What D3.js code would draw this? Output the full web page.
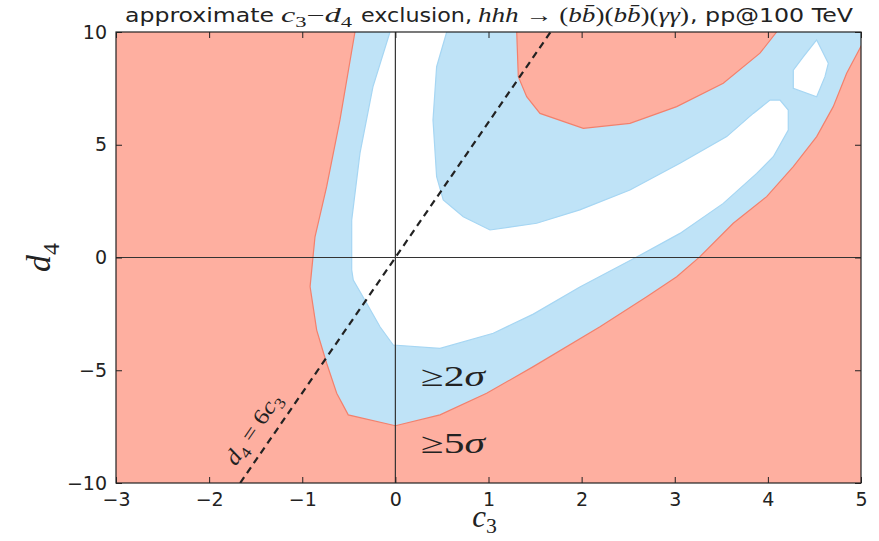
<!DOCTYPE html>
<html>
<head>
<meta charset="utf-8">
<script src="https://cdn.jsdelivr.net/npm/d3@7"></script>
<style>
  html, body { margin: 0; padding: 0; background: #fff; }
  svg { display: block; }
</style>
</head>
<body>
<svg id="chart" width="879" height="541"></svg>
<script>
// ---- data ----
const xTicks = [-3, -2, -1, 0, 1, 2, 3, 4, 5];
const yTicks = [-10, -5, 0, 5, 10];
const xDomain = [-3, 5];
const yDomain = [-10, 10];

// outer 5-sigma contour (boundary between red and blue), [c3, d4]
const outerContour = [
  [-0.434, 10], [-0.595, 6.10], [-0.738, 3.14], [-0.863, 0.92], [-0.916, -1.29],
  [-0.845, -3.22], [-0.738, -4.69], [-0.630, -6.02], [-0.506, -6.98], [0.0, -7.46],
  [0.479, -6.98], [0.980, -6.02], [1.481, -4.84], [2.197, -3.07], [2.699, -1.74],
  [3.021, -0.85], [3.271, 0.04], [3.628, 1.52], [3.987, 2.70], [4.273, 4.03],
  [4.524, 5.36], [4.702, 6.69], [4.846, 8.17], [5.007, 9.42]
];
// upper 5-sigma island
const islandContour = [
  [1.303, 10], [1.320, 8.02], [1.410, 7.13], [1.553, 6.39], [2.018, 5.73],
  [2.519, 5.95], [3.021, 6.69], [3.521, 7.73], [3.915, 9.06], [4.094, 10]
];
// allowed (< 2 sigma) main region
const allowedMain = [
  [-0.058, 10], [-0.241, 7.57], [-0.380, 4.63], [-0.469, 1.66], [-0.469, -0.55],
  [-0.452, -1.00], [-0.308, -2.03], [-0.165, -3.07], [-0.023, -3.88], [0.479, -4.03],
  [1.051, -3.36], [1.481, -2.51], [1.981, -1.31], [2.591, 0.02], [3.056, 1.07],
  [3.521, 2.40], [3.880, 3.73], [4.058, 4.47], [4.219, 5.65], [4.219, 6.54],
  [4.130, 6.98], [4.023, 6.98], [3.843, 6.39], [3.558, 5.36], [3.056, 4.18],
  [2.519, 2.99], [1.981, 2.11], [1.517, 1.52], [1.016, 1.22], [0.729, 1.81],
  [0.514, 2.55], [0.443, 3.58], [0.404, 6.10], [0.443, 8.46], [0.551, 10]
];
// allowed small island
const allowedIsland = [
  [4.524, 9.65], [4.649, 8.61], [4.613, 8.02], [4.524, 7.13], [4.273, 7.50],
  [4.273, 8.31], [4.380, 8.90]
];
const slopeLine = 6; // d4 = 6 c3

// ---- layout ----
const m = { left: 116, right: 861, top: 32, bottom: 483 };
const RED = "#FEAFA0", RED_EDGE = "#F3806C";
const BLUE = "#BFE3F7", BLUE_EDGE = "#A6D6F3";
const INK = "#222";

const svg = d3.select("#chart");
const x = d3.scaleLinear().domain(xDomain).range([m.left, m.right]);
const y = d3.scaleLinear().domain(yDomain).range([m.bottom, m.top]);

svg.append("defs").append("clipPath").attr("id", "clip")
  .append("rect").attr("x", m.left).attr("y", m.top)
  .attr("width", m.right - m.left).attr("height", m.bottom - m.top);

const g = svg.append("g").attr("clip-path", "url(#clip)");
const line = d3.line().x(d => x(d[0])).y(d => y(d[1]));

// background: excluded >= 5 sigma
g.append("rect").attr("x", m.left).attr("y", m.top)
  .attr("width", m.right - m.left).attr("height", m.bottom - m.top)
  .attr("fill", RED);

// blue region inside outer contour (closed beyond the top-right corner)
const bluePoly = outerContour.concat([[5.2, 9.42], [5.2, 10.5], [-0.434, 10.5]]);
g.append("path").attr("d", line(bluePoly) + "Z").attr("fill", BLUE);
g.append("path").attr("d", line(outerContour)).attr("fill", "none")
  .attr("stroke", RED_EDGE).attr("stroke-width", 1.2);

// red island
const islandPoly = [[1.303, 10.5]].concat(islandContour, [[4.094, 10.5]]);
g.append("path").attr("d", line(islandPoly) + "Z").attr("fill", RED);
g.append("path").attr("d", line(islandContour)).attr("fill", "none")
  .attr("stroke", RED_EDGE).attr("stroke-width", 1.2);

// white allowed regions
const mainPoly = [[-0.058, 10.5]].concat(allowedMain, [[0.551, 10.5]]);
g.append("path").attr("d", line(mainPoly) + "Z").attr("fill", "#fff");
g.append("path").attr("d", line(allowedMain)).attr("fill", "none")
  .attr("stroke", BLUE_EDGE).attr("stroke-width", 1.2);
g.append("path").attr("d", line(allowedIsland) + "Z").attr("fill", "#fff")
  .attr("stroke", BLUE_EDGE).attr("stroke-width", 1.2);

// zero lines
g.append("line").attr("x1", x(0)).attr("x2", x(0)).attr("y1", m.top).attr("y2", m.bottom)
  .attr("stroke", "#333").attr("stroke-width", 1.2);
g.append("line").attr("x1", m.left).attr("x2", m.right).attr("y1", y(0)).attr("y2", y(0))
  .attr("stroke", "#333").attr("stroke-width", 1.2);

// d4 = 6 c3 dashed line
g.append("path").attr("d", line([[yDomain[0] / slopeLine, yDomain[0]], [yDomain[1] / slopeLine, yDomain[1]]]))
  .attr("stroke", INK).attr("stroke-width", 2.2).attr("stroke-dasharray", "7,5").attr("fill", "none");

// frame
svg.append("rect").attr("x", m.left).attr("y", m.top)
  .attr("width", m.right - m.left).attr("height", m.bottom - m.top)
  .attr("fill", "none").attr("stroke", INK).attr("stroke-width", 1.2);

// axes with inward ticks
const tickFont = "DejaVu Sans, sans-serif";
const fmt = d => d < 0 ? "\u2212" + Math.abs(d) : String(d);
function styleAxis(sel, hideText) {
  sel.select(".domain").remove();
  sel.selectAll(".tick line").attr("stroke", INK).attr("stroke-width", 1);
  sel.selectAll(".tick text").attr("fill", INK).style("font-family", tickFont).style("font-size", "19px");
  if (hideText) sel.selectAll(".tick text").remove();
}
svg.append("g").attr("transform", `translate(0,${m.bottom})`)
  .call(d3.axisBottom(x).tickValues(xTicks).tickFormat(fmt).tickSizeInner(-6).tickPadding(10))
  .call(s => styleAxis(s, false));
svg.append("g").attr("transform", `translate(0,${m.top})`)
  .call(d3.axisTop(x).tickValues(xTicks).tickSizeInner(-6))
  .call(s => styleAxis(s, true));
svg.append("g").attr("transform", `translate(${m.left},0)`)
  .call(d3.axisLeft(y).tickValues(yTicks).tickFormat(fmt).tickSizeInner(-6).tickPadding(9))
  .call(s => styleAxis(s, false));
svg.append("g").attr("transform", `translate(${m.right},0)`)
  .call(d3.axisRight(y).tickValues(yTicks).tickSizeInner(-6))
  .call(s => styleAxis(s, true));

// helper for math-ish text with subscripts
const mathFont = "Liberation Serif, DejaVu Serif, serif";
function addParts(textSel, parts, size, subShift) {
  const sh = subShift === undefined ? 0.25 : subShift;
  parts.forEach(p => {
    const t = textSel.append("tspan").text(p.t);
    if (p.math) t.style("font-family", mathFont).style("font-style", p.upright ? "normal" : "italic");
    if (p.sub) { t.attr("dy", size * sh).style("font-size", (size * 0.7) + "px"); }
    if (p.back) { t.attr("dy", -size * sh); }
  });
}

// title, in segments fitted to the reference's extents
const titleSize = 20, titleY = 22;
const titleSegs = [
  { x0: 125, x1: 274, parts: [{ t: "approximate" }] },
  { x0: 281, x1: 352, parts: [
    { t: "c", math: true }, { t: "3", math: true, sub: true, upright: true },
    { t: "\u2212", math: true, back: true, upright: true },
    { t: "d", math: true }, { t: "4", math: true, sub: true, upright: true }] },
  { x0: 361, x1: 472, parts: [{ t: "exclusion," }] },
  { x0: 478, x1: 689, parts: [
    { t: "hhh", math: true }, { t: " \u2192 (", math: true, upright: true },
    { t: "bb\u0304", math: true }, { t: ")(", math: true, upright: true },
    { t: "bb\u0304", math: true }, { t: ")(", math: true, upright: true },
    { t: "\u03B3\u03B3", math: true }, { t: ")", math: true, upright: true }] },
  { x0: 690, x1: 853, parts: [{ t: ", pp@100 TeV" }] }
];
titleSegs.forEach(s => {
  const t = svg.append("text").attr("x", s.x0).attr("y", titleY).attr("fill", INK)
    .attr("textLength", s.x1 - s.x0).attr("lengthAdjust", "spacingAndGlyphs")
    .style("font-family", tickFont).style("font-size", titleSize + "px");
  addParts(t, s.parts, titleSize);
});

// axis labels
const labSize = 31;
const xl = svg.append("text").attr("x", (m.left + m.right) / 2 - 4).attr("y", 527)
  .attr("text-anchor", "middle").attr("fill", INK).style("font-size", labSize + "px");
addParts(xl, [{ t: "c", math: true }, { t: "3", math: true, sub: true, upright: true }], labSize, 0.18);
const yl = svg.append("text").attr("transform", `translate(50,${y(0)}) rotate(-90)`)
  .attr("text-anchor", "middle").attr("fill", INK).style("font-size", "34px");
addParts(yl, [{ t: "d", math: true }, { t: "4", math: true, sub: true, upright: true }], 34);

// region annotations
const annSize = 29;
[["2", 386], ["5", 453]].forEach(([v, yy]) => {
  const t = svg.append("text").attr("x", 421).attr("y", yy)
    .attr("textLength", 64).attr("lengthAdjust", "spacingAndGlyphs")
    .attr("fill", INK).style("font-family", mathFont).style("font-size", annSize + "px");
  t.append("tspan").text("\u2265").style("font-style", "normal");
  t.append("tspan").text(v).style("font-style", "normal");
  t.append("tspan").text("\u03C3").style("font-style", "italic");
});

// dashed line label
const ang = -Math.atan2(y(0) - y(slopeLine), x(1) - x(0)) * 180 / Math.PI;
const lblSize = 22;
const lbl = svg.append("text")
  .attr("transform", `translate(259,433) rotate(${ang})`)
  .attr("text-anchor", "middle").attr("fill", INK)
  .attr("textLength", 82).attr("lengthAdjust", "spacingAndGlyphs")
  .style("font-size", lblSize + "px");
addParts(lbl, [
  { t: "d", math: true }, { t: "4", math: true, sub: true, upright: true },
  { t: " = 6", math: true, back: true, upright: true },
  { t: "c", math: true }, { t: "3", math: true, sub: true, upright: true }
], lblSize);
</script>
</body>
</html>
